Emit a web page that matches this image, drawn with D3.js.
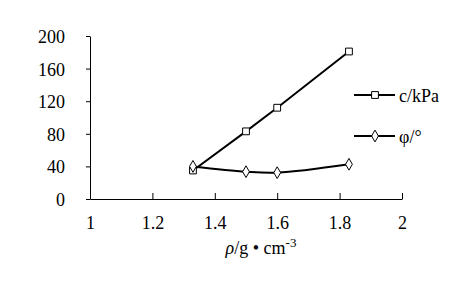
<!DOCTYPE html>
<html>
<head>
<meta charset="utf-8">
<script src="https://cdn.jsdelivr.net/npm/d3@7"></script>
</head>
<body style="margin:0">
<svg id="chart" width="471" height="296" font-family="Liberation Serif"></svg>
<script>
// density values (x) and the two measured series
const density = [1.33, 1.5, 1.6, 1.83];
const cohesion = [35, 83, 112, 181];   // c/kPa
const friction = [40, 33.5, 32.3, 42.6]; // phi/deg
const xTicks = [1, 1.2, 1.4, 1.6, 1.8, 2];
const yTicks = [0, 40, 80, 120, 160, 200];

const FONT = "Liberation Serif";
const svg = d3.select("#chart");

const x = d3.scaleLinear().domain([1, 2]).range([90, 402]);
const y = d3.scaleLinear().domain([0, 200]).range([199, 36]);

// y axis, ticks outward
const yAxis = svg.append("g")
    .attr("transform", "translate(90,0)")
    .call(d3.axisLeft(y).tickValues(yTicks).tickSize(4).tickSizeOuter(0).tickPadding(21));
yAxis.attr("font-family", FONT).attr("font-size", 18);
yAxis.selectAll("text").attr("fill", "#000").attr("dy", "0.36em");

// x axis, ticks pointing up
const xAxis = svg.append("g")
    .attr("transform", "translate(0,199)")
    .call(d3.axisBottom(x).tickValues(xTicks).tickSize(-6).tickSizeOuter(0).tickPadding(17)
        .tickFormat(d3.format("")));
xAxis.attr("font-family", FONT).attr("font-size", 18);
xAxis.selectAll("text").attr("fill", "#000");

svg.selectAll(".domain, .tick line").attr("stroke", "#000").attr("stroke-width", 1);

// axis title
const title = svg.append("text")
    .attr("x", 261).attr("y", 254)
    .attr("text-anchor", "middle")
    .attr("font-family", FONT)
    .attr("font-size", 18);
title.append("tspan").attr("font-style", "italic").text("ρ");
title.append("tspan").text("/g • cm");
title.append("tspan").attr("dy", -7).attr("font-size", 13).text("-3");

// lines
const cLine = d3.line()
    .x((d, i) => x(density[i]))
    .y(d => y(d));
const fLine = d3.line()
    .x((d, i) => x(density[i]))
    .y(d => y(d))
    .curve(d3.curveCatmullRom.alpha(0.5));

svg.append("path").attr("d", cLine(cohesion))
    .attr("fill", "none").attr("stroke", "#000").attr("stroke-width", 2);
svg.append("path").attr("d", fLine(friction))
    .attr("fill", "none").attr("stroke", "#000").attr("stroke-width", 2);

const square = d3.symbol().type(d3.symbolSquare).size(46);
const diamond = d3.symbol().type(d3.symbolDiamond).size(40);

svg.selectAll(".sq").data(cohesion).enter().append("path")
    .attr("class", "sq")
    .attr("d", square)
    .attr("transform", (d, i) => `translate(${x(density[i])},${y(d)})`)
    .attr("fill", "#fff").attr("stroke", "#000").attr("stroke-width", 1);

svg.selectAll(".dm").data(friction).enter().append("path")
    .attr("class", "dm")
    .attr("d", diamond)
    .attr("transform", (d, i) => `translate(${x(density[i])},${y(d)})`)
    .attr("fill", "#fff").attr("stroke", "#000").attr("stroke-width", 1);

// legend
const legend = [
  { label: "c/kPa", sym: square, y: 95 },
  { label: "φ/°", sym: diamond, y: 136 }
];
legend.forEach(l => {
  svg.append("line").attr("x1", 354).attr("x2", 395).attr("y1", l.y).attr("y2", l.y)
      .attr("stroke", "#000").attr("stroke-width", 2);
  svg.append("path").attr("d", l.sym).attr("transform", `translate(375,${l.y})`)
      .attr("fill", "#fff").attr("stroke", "#000").attr("stroke-width", 1);
  svg.append("text").attr("x", 399).attr("y", l.y + 7)
      .attr("font-family", FONT).attr("font-size", 18).text(l.label);
});
</script>
</body>
</html>
